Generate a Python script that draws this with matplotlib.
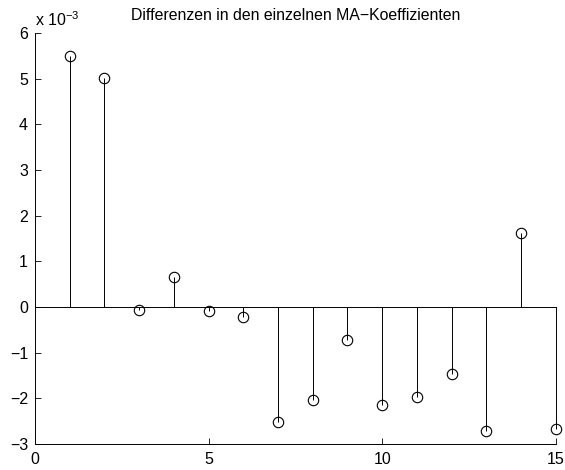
import matplotlib
matplotlib.use("Agg")
import matplotlib.pyplot as plt
import numpy as np

plt.rcParams['font.family'] = ['Liberation Sans', 'DejaVu Sans']

lags = np.arange(1, 16)
diffs_e3 = [5.50, 5.01, -0.066, 0.66, -0.095, -0.23, -2.51, -2.04,
            -0.73, -2.14, -1.97, -1.46, -2.72, 1.63, -2.68]
xticks = [0, 5, 10, 15]
yticks = [-3, -2, -1, 0, 1, 2, 3, 4, 5, 6]

fig = plt.figure(figsize=(5.65, 4.7), dpi=100)
ax = fig.add_axes([0.062, 0.0553, 0.9215, 0.8747])

vals = np.array(diffs_e3)
ax.vlines(lags, 0, vals, colors='black', linewidth=0.7, clip_on=False)
ax.plot(lags, vals, linestyle='none', marker='o', markersize=7.5,
        markerfacecolor='none', markeredgecolor='black', markeredgewidth=0.8,
        clip_on=False)
ax.plot([0, 15], [0, 0], color='black', linewidth=0.7, clip_on=False)

ax.set_xlim(0, 15)
ax.set_ylim(-3, 6)
ax.set_xticks(xticks)
ax.set_yticks(yticks)
ax.set_yticklabels([f"{t}".replace('-', '\u2212') for t in yticks])
ax.tick_params(direction='in', length=4, width=0.6, labelsize=11.5)
ax.tick_params(axis='y', pad=5)
ax.tick_params(axis='x', pad=6)
for s in ['top', 'right']:
    ax.spines[s].set_visible(False)
for s in ['left', 'bottom']:
    ax.spines[s].set_linewidth(0.7)

ax.set_title('Differenzen in den einzelnen MA\u2212Koeffizienten', fontsize=11.4, pad=9)
fig.text(0.062, 0.945, r'x 10$^{\mathregular{\u2212 3}}$'.replace('\\u2212 ', '\u2212'),
         fontsize=11.5, ha='left', va='baseline')

fig.savefig('out.png', dpi=100)
